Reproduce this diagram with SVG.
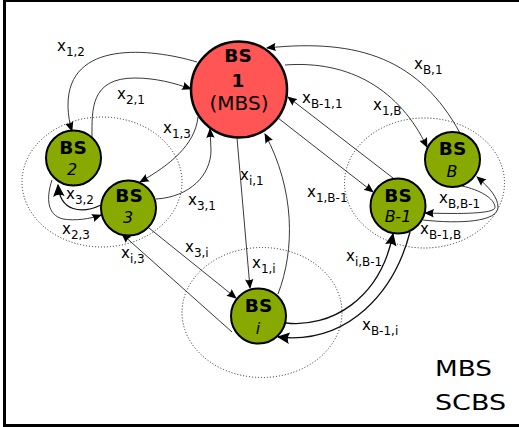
<svg xmlns="http://www.w3.org/2000/svg" width="519" height="427" viewBox="0 0 519 427">
<style>
text{font-family:"DejaVu Sans",Verdana,sans-serif;fill:#000}
.n{stroke:#000;stroke-width:2}
.g{fill:#88aa00}
.r{fill:#ff5555}
.b{font-weight:bold;font-size:18.500px;text-anchor:middle}
.i{font-style:italic;font-size:16px;text-anchor:middle}
.l{font-size:15px}
.l tspan{font-size:12px}
.z{fill:none;stroke:#222;stroke-width:1;stroke-dasharray:1 2}
.c{fill:none;stroke:#222;stroke-width:.9;marker-end:url(#a)}
.t{fill:none;stroke:#111;stroke-width:1.3;marker-end:url(#h)}
.k{font-size:22px}
</style>
<defs>
<marker id="a" markerUnits="userSpaceOnUse" markerWidth="11" markerHeight="10" refX="9" refY="5" orient="auto" viewBox="0 0 11 10"><path d="M0,0.800L10,5L0,9.200Q2.500,5 0,0.800Z" fill="#000"/></marker>
<marker id="h" markerUnits="userSpaceOnUse" markerWidth="14" markerHeight="12" refX="10" refY="5" orient="auto" viewBox="0 0 12 10"><path d="M0,0L11,5L0,10Q3,5 0,0Z" fill="#000"/></marker>
</defs>
<rect x="4.500" y="0.500" width="600" height="425" fill="#fff" stroke="#000" stroke-width="3"/>
<ellipse class="z" cx="102" cy="182" rx="80" ry="65"/>
<ellipse class="z" cx="424.500" cy="183" rx="80" ry="65"/>
<ellipse class="z" cx="262" cy="312.500" rx="80" ry="65"/>
<g id="connectors">
<path class="c" d="M197,62C150,48 68,40 68,105C68,115 70,125 72,131"/>
<path class="c" d="M92,137C92,110 90,78 135,78C155,78 175,83 191,89"/>
<path class="c" d="M198,117C195,145 170,165 140,182"/>
<path class="c" d="M156,199C190,197 211,175 211,150L210,129"/>
<path class="t" d="M101,205C82,214 60,212 58,185"/>
<path class="c" d="M52,180C46,198 47,215 63,219C75,221 90,219 101,215"/>
<path class="c" d="M149,228L236,298"/>
<path class="c" d="M232,332L122,234"/>
<path class="c" d="M237,138L250,288"/>
<path class="c" d="M278,294C295,250 295,190 265,134"/>
<path class="t" d="M286,323C330,328 380,300 393,234"/>
<path class="t" d="M410,232C395,290 350,345 278,337"/>
<path class="c" d="M278,118L373,192"/>
<path class="c" d="M393,178L288,97"/>
<path class="c" d="M285,65C350,60 400,90 427,147"/>
<path class="c" d="M460,133C420,60 360,38 267,48"/>
<path class="c" d="M462,186C480,190 494,198 495,207C496,214 460,214 425,213"/>
<path class="c" d="M423,220C460,224 498,222 498,207C498,198 490,188 477,177"/>
</g>
<g id="bs1"><circle class="n r" cx="239" cy="89.500" r="48" style="stroke-width:2.500"/><text class="b" x="238" y="62">BS</text><text class="b" x="238" y="87">1</text><text x="239" y="110" font-size="20" text-anchor="middle">(MBS)</text></g>
<g id="bs2"><circle class="n g" cx="73.500" cy="158" r="27.500"/><text class="b" x="73" y="154">BS</text><text class="i" x="72" y="175">2</text></g>
<g id="bs3"><circle class="n g" cx="128.500" cy="208" r="27.500"/><text class="b" x="129" y="202">BS</text><text class="i" x="128" y="223">3</text></g>
<g id="bsB"><circle class="n g" cx="452.500" cy="159.500" r="27.500"/><text class="b" x="452.500" y="155">BS</text><text class="i" x="452" y="177">B</text></g>
<g id="bsB1"><circle class="n g" cx="398" cy="206" r="27.500"/><text class="b" x="398" y="202">BS</text><text class="i" x="398" y="222">B-1</text></g>
<g id="bsi"><circle class="n g" cx="258.500" cy="316" r="27.500"/><text class="b" x="258.500" y="312">BS</text><text class="i" x="258" y="334">i</text></g>
<g id="labels">
<text class="l" x="57" y="51">x<tspan dy="5">1,2</tspan></text>
<text class="l" x="117" y="99">x<tspan dy="5">2,1</tspan></text>
<text class="l" x="163" y="133">x<tspan dy="5">1,3</tspan></text>
<text class="l" x="188" y="205">x<tspan dy="5">3,1</tspan></text>
<text class="l" x="66" y="199">x<tspan dy="5">3,2</tspan></text>
<text class="l" x="62" y="234">x<tspan dy="5">2,3</tspan></text>
<text class="l" x="121" y="258">x<tspan dy="5">i,3</tspan></text>
<text class="l" x="185" y="252">x<tspan dy="5">3,i</tspan></text>
<text class="l" x="252" y="268">x<tspan dy="5">1,i</tspan></text>
<text class="l" x="240" y="180">x<tspan dy="5">i,1</tspan></text>
<text class="l" x="414" y="69">x<tspan dy="5">B,1</tspan></text>
<text class="l" x="373" y="110">x<tspan dy="5">1,B</tspan></text>
<text class="l" x="302" y="103">x<tspan dy="5">B-1,1</tspan></text>
<text class="l" x="307" y="197">x<tspan dy="5">1,B-1</tspan></text>
<text class="l" x="439" y="203">x<tspan dy="5">B,B-1</tspan></text>
<text class="l" x="420" y="234">x<tspan dy="5">B-1,B</tspan></text>
<text class="l" x="346" y="261">x<tspan dy="5">i,B-1</tspan></text>
<text class="l" x="362" y="330">x<tspan dy="5">B-1,i</tspan></text>
</g>
<text class="k" x="435" y="376" textLength="57" lengthAdjust="spacingAndGlyphs">MBS</text>
<text class="k" x="435" y="410" textLength="71" lengthAdjust="spacingAndGlyphs">SCBS</text>
</svg>
